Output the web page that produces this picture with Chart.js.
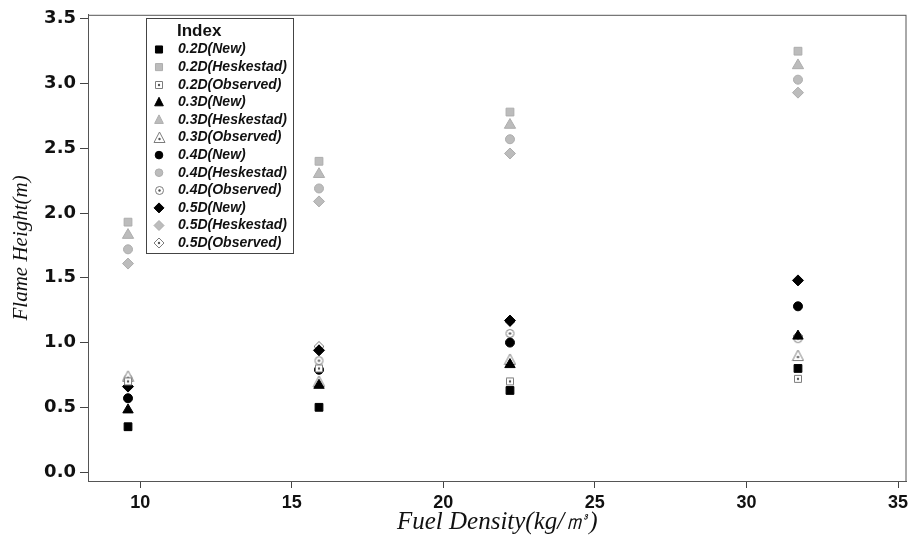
<!DOCTYPE html>
<html>
<head>
<meta charset="utf-8">
<title>Flame Height vs Fuel Density</title>
<script src="https://cdn.jsdelivr.net/npm/chart.js@4.4.0/dist/chart.umd.min.js"></script>
<style>
  body { margin: 0; background: #fff; overflow: hidden; }
  #wrap { width: 908px; height: 543px; overflow: hidden; }
</style>
</head>
<body>
<div id="wrap"><canvas id="flameChart" width="914" height="543"></canvas></div>
<script>
// fuel density of each test (kg/m3)
const fuelDensity = [9.6, 15.9, 22.2, 31.7];

// flame heights (m)
const new02 = [0.35, 0.50, 0.63, 0.80];
const new03 = [0.48, 0.67, 0.83, 1.05];
const new04 = [0.57, 0.79, 1.00, 1.28];
const new05 = [0.66, 0.94, 1.17, 1.48];

const hesk02 = [1.93, 2.40, 2.78, 3.25];
const hesk03 = [1.83, 2.30, 2.68, 3.14];
const hesk04 = [1.72, 2.19, 2.57, 3.03];
const hesk05 = [1.61, 2.09, 2.46, 2.93];

const obs02 = [0.70, 0.80, 0.70, 0.72];
const obs03 = [0.74, 0.70, 0.87, 0.90];
const obs04 = [0.72, 0.86, 1.07, 1.03];
const obs05 = [0.71, 0.97, 1.16, 1.05];

const xTicks = [10, 15, 20, 25, 30, 35];
const yTicks = [0, 0.5, 1, 1.5, 2, 2.5, 3, 3.5];

function points(arr) {
    return fuelDensity.map((x, i) => ({ x: x, y: arr[i] }));
}

// open marker with a dot in the middle (the "Observed" symbols)
function openMarker(shape, size) {
    const c = document.createElement("canvas");
    c.width = size;
    c.height = size;
    const g = c.getContext("2d");
    const m = size / 2;
    g.strokeStyle = "#7c7c7c";
    g.fillStyle = "#fff";
    g.lineWidth = 1;
    g.beginPath();
    if (shape === "rect") {
        g.rect(1.5, 1.5, size - 3, size - 3);
    } else if (shape === "triangle") {
        g.moveTo(m, 1);
        g.lineTo(size - 1, size - 1.5);
        g.lineTo(1, size - 1.5);
        g.closePath();
    } else if (shape === "circle") {
        g.arc(m, m, m - 1.5, 0, Math.PI * 2);
    } else {
        g.moveTo(m, 1);
        g.lineTo(size - 1, m);
        g.lineTo(m, size - 1);
        g.lineTo(1, m);
        g.closePath();
    }
    g.fill();
    g.stroke();
    g.fillStyle = "#555";
    g.beginPath();
    g.arc(m, shape === "triangle" ? m + 1.5 : m, 1.2, 0, Math.PI * 2);
    g.fill();
    return c;
}

const black = "#000";
const grey = "#bcbcbc";
const greyEdge = "#adadad";

function filled(label, data, shape, radius, fill, edge) {
    return {
        label: label,
        data: points(data),
        pointStyle: shape,
        pointRadius: radius,
        pointHoverRadius: radius,
        backgroundColor: fill,
        borderColor: edge,
        borderWidth: 1
    };
}

function observed(label, data, shape, size) {
    return {
        label: label,
        data: points(data),
        pointStyle: openMarker(shape, size),
        pointRadius: size / 2,
        backgroundColor: "#fff",
        borderColor: "#7c7c7c"
    };
}

const datasets = [
    filled("0.2D(New)", new02, "rect", 5.5, black, black),
    filled("0.2D(Heskestad)", hesk02, "rect", 5.5, grey, greyEdge),
    observed("0.2D(Observed)", obs02, "rect", 10),
    filled("0.3D(New)", new03, "triangle", 6, black, black),
    filled("0.3D(Heskestad)", hesk03, "triangle", 6.5, grey, greyEdge),
    observed("0.3D(Observed)", obs03, "triangle", 13),
    filled("0.4D(New)", new04, "circle", 4.5, black, black),
    filled("0.4D(Heskestad)", hesk04, "circle", 4.5, grey, greyEdge),
    observed("0.4D(Observed)", obs04, "circle", 11),
    filled("0.5D(New)", new05, "rectRot", 5.5, black, black),
    filled("0.5D(Heskestad)", hesk05, "rectRot", 5.5, grey, greyEdge),
    observed("0.5D(Observed)", obs05, "rectRot", 12)
];

function drawShape(ctx, style, x, y, r) {
    if (style === "rect") {
        const s = r / Math.SQRT2;
        ctx.rect(x - s, y - s, 2 * s, 2 * s);
    } else if (style === "triangle") {
        ctx.moveTo(x, y - r);
        ctx.lineTo(x + r * 0.866, y + r * 0.5 + 1);
        ctx.lineTo(x - r * 0.866, y + r * 0.5 + 1);
        ctx.closePath();
    } else if (style === "circle") {
        ctx.arc(x, y, r * 0.85, 0, Math.PI * 2);
    } else {
        ctx.moveTo(x, y - r);
        ctx.lineTo(x + r, y);
        ctx.lineTo(x, y + r);
        ctx.lineTo(x - r, y);
        ctx.closePath();
    }
}

// frame around the plot + the "Index" legend box
const framePlugin = {
    id: "frameAndLegend",
    afterDraw(chart) {
        const ctx = chart.ctx;
        const a = chart.chartArea;
        ctx.save();
        ctx.strokeStyle = "#555";
        ctx.lineWidth = 1;
        ctx.strokeRect(a.left + 0.5, a.top + 0.5, a.right - a.left - 1, a.bottom - a.top);

        // legend
        ctx.fillStyle = "#fff";
        ctx.fillRect(146, 18, 147, 235);
        ctx.strokeStyle = "#444";
        ctx.strokeRect(146.5, 18.5, 147, 235);

        ctx.fillStyle = "#111";
        ctx.textBaseline = "middle";
        ctx.textAlign = "left";
        ctx.font = "bold 17px 'Liberation Sans', Arial, sans-serif";
        ctx.fillText("Index", 177, 31);

        ctx.font = "italic bold 14px 'Liberation Sans', Arial, sans-serif";
        chart.data.datasets.forEach((ds, i) => {
            const y = 49.5 + i * 17.6;
            const x = 159;
            const style = ds.pointStyle;
            if (style instanceof HTMLCanvasElement) {
                ctx.drawImage(style, Math.round(x - style.width / 2), Math.round(y - style.height / 2));
            } else {
                ctx.fillStyle = ds.backgroundColor;
                ctx.strokeStyle = ds.borderColor;
                ctx.lineWidth = 1;
                ctx.beginPath();
                drawShape(ctx, style, x, y, Math.min(ds.pointRadius, 5));
                ctx.fill();
                ctx.stroke();
            }
            ctx.fillStyle = "#111";
            ctx.fillText(ds.label, 178, y);
        });
        ctx.restore();
    }
};

new Chart(document.getElementById("flameChart").getContext("2d"), {
    type: "scatter",
    data: { datasets: datasets },
    options: {
        responsive: false,
        animation: false,
        devicePixelRatio: 1,
        layout: { padding: { top: 12, right: 0, left: 0, bottom: 0 } },
        plugins: {
            legend: { display: false },
            tooltip: { enabled: false }
        },
        scales: {
            x: {
                type: "linear",
                min: 8.28,
                max: 35.28,
                afterBuildTicks: (scale) => { scale.ticks = xTicks.map(v => ({ value: v })); },
                afterFit: (scale) => { scale.height = 62; },
                grid: { drawOnChartArea: false, drawTicks: true, tickLength: 7, color: "#444" },
                border: { display: true, color: "#555" },
                ticks: {
                    padding: 4,
                    color: "#111",
                    font: { family: "'Liberation Sans', Arial, sans-serif", size: 18, weight: "bold" },
                    maxRotation: 0
                },
                title: {
                    display: true,
                    text: "Fuel Density(kg/㎥)",
                    color: "#111",
                    padding: { top: 6, bottom: 6 },
                    font: { family: "'Liberation Serif', 'Times New Roman', serif", size: 25, style: "italic" }
                }
            },
            y: {
                type: "linear",
                min: -0.069,
                max: 3.531,
                afterBuildTicks: (scale) => { scale.ticks = yTicks.map(v => ({ value: v })); },
                afterFit: (scale) => { scale.width = 88; },
                grid: { drawOnChartArea: false, drawTicks: true, tickLength: 8, color: "#444" },
                border: { display: true, color: "#555" },
                ticks: {
                    padding: 4,
                    color: "#111",
                    font: { family: "'DejaVu Sans', sans-serif", size: 18, weight: "bold" },
                    callback: (v) => Number(v).toFixed(1)
                },
                title: {
                    display: true,
                    text: "Flame Height(m)",
                    color: "#111",
                    padding: { top: 9, bottom: 9 },
                    font: { family: "'Liberation Serif', 'Times New Roman', serif", size: 21, style: "italic" }
                }
            }
        }
    },
    plugins: [framePlugin]
});
</script>
</body>
</html>
